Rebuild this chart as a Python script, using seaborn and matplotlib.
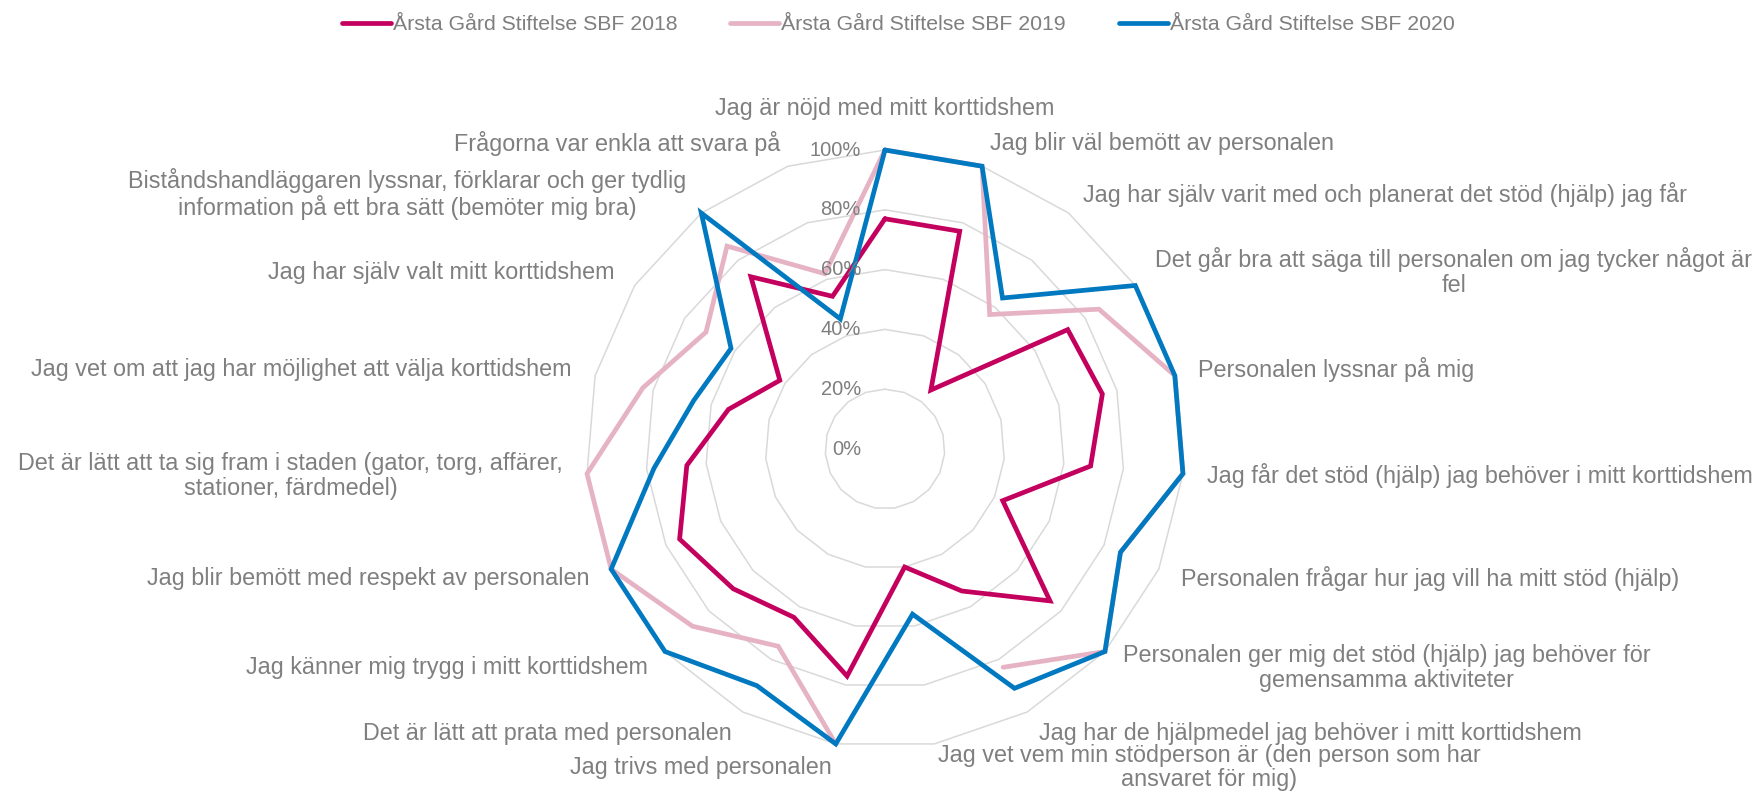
import numpy as np
import matplotlib
matplotlib.use('Agg')
import matplotlib.pyplot as plt
import seaborn as sns

sns.set_theme(style="white")
plt.rcParams['font.family'] = ['Liberation Sans', 'DejaVu Sans']

TEXT_GRAY = '#7f7f7f'
GRID_GRAY = '#d9d9d9'

categories = [
    "Jag är nöjd med mitt korttidshem",
    "Jag blir väl bemött av personalen",
    "Jag har själv varit med och planerat det stöd (hjälp) jag får",
    "Det går bra att säga till personalen om jag tycker något är\nfel",
    "Personalen lyssnar på mig",
    "Jag får det stöd (hjälp) jag behöver i mitt korttidshem",
    "Personalen frågar hur jag vill ha mitt stöd (hjälp)",
    "Personalen ger mig det stöd (hjälp) jag behöver för\ngemensamma aktiviteter",
    "Jag har de hjälpmedel jag behöver i mitt korttidshem",
    "Jag vet vem min stödperson är (den person som har\nansvaret för mig)",
    "Jag trivs med personalen",
    "Det är lätt att prata med personalen",
    "Jag känner mig trygg i mitt korttidshem",
    "Jag blir bemött med respekt av personalen",
    "Det är lätt att ta sig fram i staden (gator, torg, affärer,\nstationer, färdmedel)",
    "Jag vet om att jag har möjlighet att välja korttidshem",
    "Jag har själv valt mitt korttidshem",
    "Biståndshandläggaren lyssnar, förklarar och ger tydlig\ninformation på ett bra sätt (bemöter mig bra)",
    "Frågorna var enkla att svara på",
]

series_names = [
    "Årsta Gård Stiftelse SBF 2018",
    "Årsta Gård Stiftelse SBF 2019",
    "Årsta Gård Stiftelse SBF 2020",
]

vals_2018 = [0.77, 0.77, 0.25, 0.73, 0.75, 0.69, 0.43, 0.75, 0.54, 0.40,
             0.77, 0.64, 0.69, 0.75, 0.665, 0.54, 0.42, 0.73, 0.54]
vals_2019 = [1.00, 1.00, 0.57, 0.855, 1.00, 1.00, 0.86, 1.00, 0.83, np.nan,
             1.00, 0.75, 0.875, 1.00, 1.00, 0.835, 0.715, 0.86, 0.62]
vals_2020 = [1.00, 1.00, 0.64, 1.00, 1.00, 1.00, 0.86, 1.00, 0.91, 0.56,
             1.00, 0.90, 1.00, 1.00, 0.775, 0.66, 0.615, 1.00, 0.46]

colors = ['#c4005f', '#e6b3c5', '#0079c1']
r_ticks = [0.0, 0.2, 0.4, 0.6, 0.8, 1.0]
r_tick_labels = ['0%', '20%', '40%', '60%', '80%', '100%']

n = len(categories)
theta = np.linspace(0, 2 * np.pi, n, endpoint=False)
theta_closed = np.append(theta, theta[0])

fig = plt.figure(figsize=(17.58, 7.95), dpi=100)
ax = fig.add_axes([0.3333, 0.0591, 0.3402, 0.7522], projection='polar')
ax.set_theta_zero_location('N')
ax.set_theta_direction(-1)
ax.set_ylim(0, 1)
ax.grid(False)
ax.spines['polar'].set_visible(False)
ax.patch.set_visible(False)
ax.set_xticks([])
ax.set_yticks([])

# polygon gridlines
for lvl in r_ticks[1:]:
    ax.plot(theta_closed, [lvl] * (n + 1), color=GRID_GRAY, lw=1.1, zorder=1, clip_on=False)

# radial tick labels, left of the vertical axis
for lvl, lab in zip(r_ticks, r_tick_labels):
    ax.annotate(lab, xy=(0, lvl), xytext=(-24, 0), textcoords='offset pixels',
                ha='right', va='center', fontsize=14.5, color=TEXT_GRAY, zorder=5)

# data series
handles = []
for vals, name, col in zip([vals_2018, vals_2019, vals_2020], series_names, colors):
    v = np.append(vals, vals[0])
    h, = ax.plot(theta_closed, v, color=col, lw=3.4, label=name, zorder=3,
                 clip_on=False, solid_joinstyle='miter')
    handles.append(h)

# category labels
for t, lab in zip(theta, categories):
    s = np.sin(t)
    if abs(s) < 0.05:
        ha, va, rr = 'center', 'bottom', 1.1
    else:
        ha = 'left' if s > 0 else 'right'
        va, rr = 'center', 1.08
    ax.text(t, rr, lab, ha=ha, va=va, multialignment='center',
            fontsize=16.8, color=TEXT_GRAY, linespacing=1.1)

fig.legend(handles=handles, loc='upper center', bbox_to_anchor=(0.511, 1.005),
           ncol=3, frameon=False, fontsize=15.3, handlelength=2.3,
           handletextpad=0.1, columnspacing=2.5, labelcolor=TEXT_GRAY)

fig.savefig('out.png', dpi=100)
